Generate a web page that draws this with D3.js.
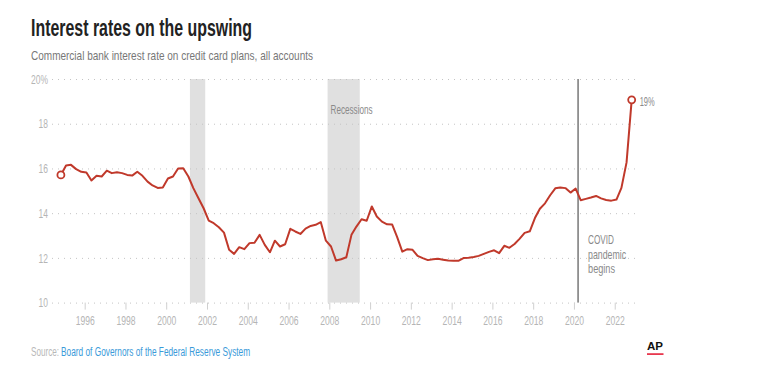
<!DOCTYPE html>
<html>
<head>
<meta charset="utf-8">
<script src="https://cdn.jsdelivr.net/npm/d3@7"></script>
<style>
  html, body { margin: 0; padding: 0; background: #fff; }
  svg { display: block; }
  text { font-family: "Liberation Sans", Arial, sans-serif; }
</style>
</head>
<body>
<svg id="chart" width="768" height="381"></svg>
<script>
// ---- Data ----
const dates = [
  "1994-11",
  "1995-02","1995-05","1995-08","1995-11",
  "1996-02","1996-05","1996-08","1996-11",
  "1997-02","1997-05","1997-08","1997-11",
  "1998-02","1998-05","1998-08","1998-11",
  "1999-02","1999-05","1999-08","1999-11",
  "2000-02","2000-05","2000-08","2000-11",
  "2001-02","2001-05","2001-08","2001-11",
  "2002-02","2002-05","2002-08","2002-11",
  "2003-02","2003-05","2003-08","2003-11",
  "2004-02","2004-05","2004-08","2004-11",
  "2005-02","2005-05","2005-08","2005-11",
  "2006-02","2006-05","2006-08","2006-11",
  "2007-02","2007-05","2007-08","2007-11",
  "2008-02","2008-05","2008-08","2008-11",
  "2009-02","2009-05","2009-08","2009-11",
  "2010-02","2010-05","2010-08","2010-11",
  "2011-02","2011-05","2011-08","2011-11",
  "2012-02","2012-05","2012-08","2012-11",
  "2013-02","2013-05","2013-08","2013-11",
  "2014-02","2014-05","2014-08","2014-11",
  "2015-02","2015-05","2015-08","2015-11",
  "2016-02","2016-05","2016-08","2016-11",
  "2017-02","2017-05","2017-08","2017-11",
  "2018-02","2018-05","2018-08","2018-11",
  "2019-02","2019-05","2019-08","2019-11",
  "2020-02","2020-05","2020-08","2020-11",
  "2021-02","2021-05","2021-08","2021-11",
  "2022-02","2022-05","2022-08","2022-11"
];
const rates = [
  15.71,
  16.13,16.16,15.97,15.85,
  15.82,15.46,15.67,15.64,
  15.90,15.79,15.83,15.79,
  15.71,15.68,15.85,15.67,
  15.41,15.24,15.13,15.15,
  15.55,15.64,16.00,16.01,
  15.64,15.12,14.67,14.22,
  13.67,13.55,13.37,13.13,
  12.36,12.18,12.48,12.39,
  12.66,12.68,13.03,12.58,
  12.25,12.77,12.51,12.61,
  13.30,13.18,13.07,13.31,
  13.43,13.48,13.60,12.77,
  12.51,11.88,11.94,12.03,
  13.03,13.40,13.73,13.66,
  14.30,13.85,13.62,13.50,
  13.49,12.93,12.28,12.39,
  12.36,12.09,11.99,11.90,
  11.94,11.96,11.92,11.88,
  11.87,11.87,11.99,12.01,
  12.04,12.09,12.18,12.27,
  12.34,12.21,12.54,12.45,
  12.62,12.85,13.12,13.19,
  13.78,14.20,14.44,14.80,
  15.11,15.15,15.12,14.92,
  15.10,14.58,14.64,14.70,
  14.77,14.66,14.59,14.56,
  14.61,15.13,16.27,19.07
];
const yTicks = [10, 12, 14, 16, 18, 20];
const yTickLabels = ["10", "12", "14", "16", "18", "20%"];
const xTickYears = [1996,1998,2000,2002,2004,2006,2008,2010,2012,2014,2016,2018,2020,2022];
const recessions = [["2001-03-01","2001-11-30"],["2007-12-01","2009-06-30"]];
const covidDate = "2020-03-15";
const covidLabel = ["COVID","pandemic","begins"];
const title = "Interest rates on the upswing";
const subtitle = "Commercial bank interest rate on credit card plans, all accounts";
const sourcePrefix = "Source:";
const sourceText = "Board of Governors of the Federal Reserve System";
const endLabel = "19%";

// ---- Setup ----
const svg = d3.select("#chart");
const parseM = d3.timeParse("%Y-%m");
const parseD = d3.timeParse("%Y-%m-%d");
const data = dates.map((d, i) => ({ date: parseM(d), value: rates[i] }));

// squeeze text horizontally to emulate the condensed typeface
function condense(sel, factor) {
  sel.each(function () {
    const w = this.getComputedTextLength();
    d3.select(this).attr("textLength", w * factor).attr("lengthAdjust", "spacingAndGlyphs");
  });
}

const x = d3.scaleTime()
  .domain([new Date(1994, 0, 1), new Date(2024, 0, 1)])
  .range([43.93, 655.47]);
const y = d3.scaleLinear().domain([10, 20]).range([302.6, 79]);

const gridX0 = 52, gridX1 = 637;

// Title & subtitle
svg.append("text").attr("x", 31).attr("y", 36)
  .attr("font-size", 23).attr("font-weight", "bold").attr("fill", "#222")
  .attr("textLength", 221).attr("lengthAdjust", "spacingAndGlyphs")
  .text(title);
svg.append("text").attr("x", 31).attr("y", 60)
  .attr("font-size", 13).attr("fill", "#777")
  .attr("textLength", 282).attr("lengthAdjust", "spacingAndGlyphs")
  .text(subtitle);

// Recession bands
svg.append("g").selectAll("rect").data(recessions).join("rect")
  .attr("x", d => x(parseD(d[0])))
  .attr("width", d => x(parseD(d[1])) - x(parseD(d[0])))
  .attr("y", y(20)).attr("height", y(10) - y(20))
  .attr("fill", "#e0e0e0");

// Gridlines + y labels
const yAxis = d3.axisLeft(y).tickValues(yTicks)
  .tickFormat((d, i) => yTickLabels[i])
  .tickSize(-(gridX1 - gridX0)).tickPadding(4);
const gy = svg.append("g").attr("transform", `translate(${gridX0},0)`).call(yAxis);
gy.select(".domain").remove();
gy.selectAll(".tick line").attr("stroke", "#c4c4c4").attr("stroke-width", 1)
  .attr("stroke-dasharray", "1,5");
gy.selectAll(".tick text").attr("fill", "#b5b5b5").attr("font-size", 13)
  .attr("font-family", "\"Liberation Sans\", Arial, sans-serif");
condense(gy.selectAll(".tick text"), 0.65);

// X axis
const xAxis = d3.axisBottom(x)
  .tickValues(xTickYears.map(yr => new Date(yr, 0, 1)))
  .tickFormat(d3.timeFormat("%Y")).tickSize(7).tickPadding(6);
const gx = svg.append("g").attr("transform", `translate(0,${y(10)})`).call(xAxis);
gx.select(".domain").remove();
gx.selectAll(".tick line").attr("stroke", "#d0d0d0").attr("stroke-width", 1);
gx.selectAll(".tick text").attr("fill", "#b5b5b5").attr("font-size", 13)
  .attr("font-family", "\"Liberation Sans\", Arial, sans-serif");
condense(gx.selectAll(".tick text"), 0.66);

// Recessions label
svg.append("text").attr("x", x(parseD(recessions[1][0])) + 3).attr("y", 114.3)
  .attr("font-size", 13).attr("fill", "#8a8a8a")
  .attr("textLength", 42).attr("lengthAdjust", "spacingAndGlyphs")
  .text("Recessions");

// COVID line
const cx = x(parseD(covidDate));
svg.append("line").attr("x1", cx).attr("x2", cx).attr("y1", y(20)).attr("y2", y(10))
  .attr("stroke", "#333").attr("stroke-width", 1);
const covidW = [26, 38, 27];
svg.append("g").selectAll("text").data(covidLabel).join("text")
  .attr("x", cx + 10).attr("y", (d, i) => 244.3 + i * 14.5)
  .attr("font-size", 13).attr("fill", "#8a8a8a")
  .attr("textLength", (d, i) => covidW[i]).attr("lengthAdjust", "spacingAndGlyphs")
  .text(d => d);

// Line
const line = d3.line().x(d => x(d.date)).y(d => y(d.value)).curve(d3.curveLinear);
svg.append("path").datum(data).attr("d", line)
  .attr("fill", "none").attr("stroke", "#c0392b").attr("stroke-width", 2)
  .attr("stroke-linejoin", "round");

// End circles
const ends = [data[0], data[data.length - 1]];
svg.append("g").selectAll("circle").data(ends).join("circle")
  .attr("cx", d => x(d.date)).attr("cy", d => y(d.value)).attr("r", 3.5)
  .attr("fill", "#fff").attr("stroke", "#c0392b").attr("stroke-width", 1.8);

// End label
const last = data[data.length - 1];
svg.append("text").attr("x", x(last.date) + 8).attr("y", y(last.value) + 6)
  .attr("font-size", 13).attr("fill", "#8a8a8a")
  .attr("textLength", 15).attr("lengthAdjust", "spacingAndGlyphs")
  .text(endLabel);

// Source (condensed via a horizontal scale on the group)
const sx = 0.68;
const srcG = svg.append("g").attr("transform", `translate(31,356) scale(${sx},1)`);
srcG.append("text").attr("x", 0).attr("y", 0).attr("font-size", 12)
  .attr("fill", "#b8b8b8").text(sourcePrefix);
const blue = srcG.append("text").attr("x", 30 / sx).attr("y", 0).attr("font-size", 12)
  .attr("fill", "#3a9ad9").text(sourceText);
const bw = blue.node().getComputedTextLength();
blue.attr("font-size", 12 * (189 / sx) / bw);

// AP logo
svg.append("text").attr("x", 655).attr("y", 349.5).attr("text-anchor", "middle")
  .attr("font-size", 11).attr("font-weight", "bold").attr("fill", "#111")
  .attr("textLength", 16).attr("lengthAdjust", "spacingAndGlyphs")
  .text("AP");
svg.append("rect").attr("x", 647).attr("y", 353.2).attr("width", 16.5).attr("height", 1.8)
  .attr("fill", "#e8384f");
</script>
</body>
</html>
